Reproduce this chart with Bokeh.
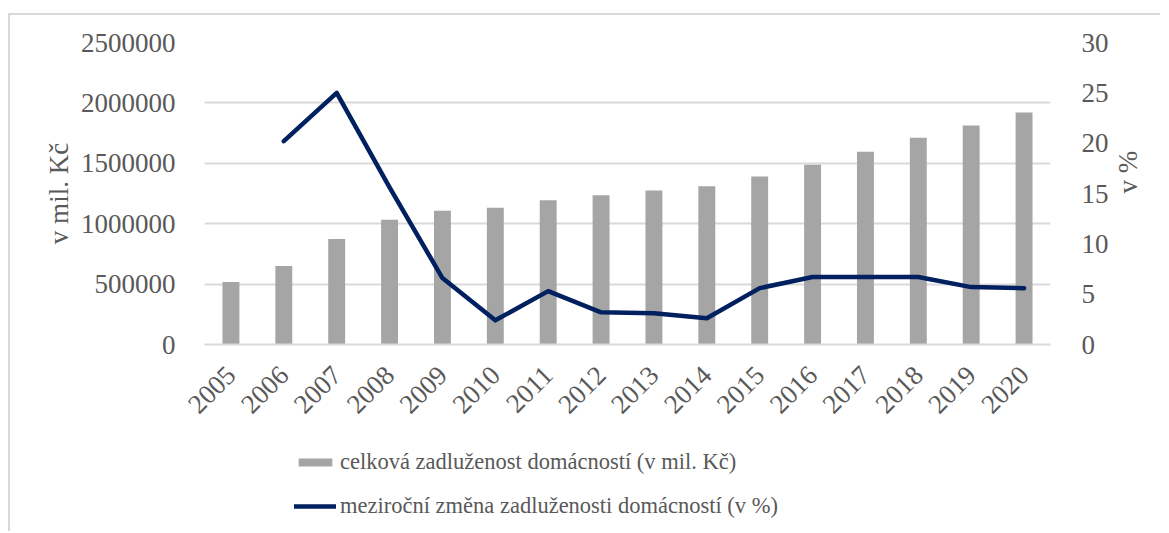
import math
from bokeh.plotting import figure
from bokeh.layouts import column
from bokeh.models import (ColumnDataSource, Range1d, LinearAxis, FactorRange,
                          Legend, LegendItem, SingleIntervalTicker)
from bokeh.embed import file_html
from bokeh.resources import INLINE

years = [str(y) for y in range(2005, 2021)]
debt = [517000, 650000, 873000, 1033000, 1107000, 1132000, 1195000, 1236000,
        1275000, 1311000, 1391000, 1488000, 1595000, 1711000, 1812000, 1920000]
change_years = years[1:]
change = [20.2, 25.0, 15.6, 6.6, 2.4, 5.3, 3.2, 3.1, 2.6, 5.6, 6.7, 6.7, 6.7, 5.7, 5.6]

bar_label = "celková zadluženost domácností (v mil. Kč)"
line_label = "meziroční změna zadluženosti domácností (v %)"

FONT = "Liberation Serif"
TXT = "#595959"
GRID = "#D9D9D9"
BAR = "#A5A5A5"
LINE = "#002060"

p = figure(x_range=FactorRange(*years), y_range=Range1d(0, 2500000),
           width=1150, height=421, output_backend="svg", toolbar_location=None,
           min_border_left=194, min_border_right=105, min_border_top=27,
           min_border_bottom=92)
p.outline_line_color = None
p.background_fill_color = "white"
p.border_fill_color = "white"
p.extra_y_ranges = {"pct": Range1d(0, 30)}

src_b = ColumnDataSource(dict(x=years, top=debt))
src_l = ColumnDataSource(dict(x=change_years, y=change))

p.vbar(x="x", top="top", width=0.32, source=src_b, fill_color=BAR, line_color=None)
p.line(x="x", y="y", source=src_l, y_range_name="pct", line_color=LINE,
       line_width=4.5, line_join="round", line_cap="round")

ya = p.yaxis[0]
ya.ticker = SingleIntervalTicker(interval=500000)
ya.formatter.use_scientific = False
ya.axis_label = "v mil. Kč"

ra = LinearAxis(y_range_name="pct", ticker=SingleIntervalTicker(interval=5))
ra.axis_label = "v %"
try:
    ra.axis_label_orientation = math.pi / 2
except Exception:
    pass
try:
    ra.axis_label_text_align = "center"
except Exception:
    pass
p.add_layout(ra, "right")

for ax in [ya, ra]:
    ax.axis_line_color = None
    ax.major_tick_line_color = None
    ax.minor_tick_line_color = None
    ax.major_label_text_font = FONT
    ax.major_label_text_font_size = "27px"
    ax.major_label_text_color = TXT
    ax.axis_label_text_font = FONT
    ax.axis_label_text_font_size = "27px"
    ax.axis_label_text_font_style = "normal"
    ax.axis_label_text_color = TXT
ya.major_label_standoff = 23
ya.axis_label_standoff = 4
ra.major_label_standoff = 25
ra.axis_label_standoff = 16

xa = p.xaxis[0]
xa.axis_line_color = GRID
xa.axis_line_width = 2
xa.major_tick_line_color = None
xa.minor_tick_line_color = None
xa.major_label_orientation = math.pi / 4
xa.major_label_text_font = FONT
xa.major_label_text_font_size = "27px"
xa.major_label_text_color = TXT
xa.major_label_standoff = 20

p.xgrid.grid_line_color = None
p.ygrid.grid_line_color = GRID
p.ygrid.grid_line_width = 2

# legend panel: a second figure below the chart; its renderers reuse the data
# but are hidden, so only their legend entries are drawn.
q = figure(width=1150, height=95, output_backend="svg", toolbar_location=None,
           x_axis_location=None, y_axis_location=None, min_border=0,
           x_range=p.x_range, y_range=Range1d(0, 2500000))
q.outline_line_color = None
q.grid.grid_line_color = None
q.background_fill_color = "white"
q.border_fill_color = "white"
lb = q.vbar(x="x", top="top", width=0.32, source=src_b, fill_color=BAR,
            line_color=None, visible=False)
ll = q.line(x="x", y="y", source=src_l, line_color=LINE, line_width=4.5,
            line_cap="round", visible=False)

legend = Legend(items=[LegendItem(label=bar_label, renderers=[lb]),
                       LegendItem(label=line_label, renderers=[ll])],
                location=(90, 10), orientation="vertical",
                padding=0, margin=0, spacing=14, border_line_color=None,
                background_fill_alpha=0, inactive_fill_alpha=0,
                glyph_width=42, glyph_height=10,
                label_height=30, label_standoff=4,
                label_text_font=FONT, label_text_font_size="22.5px",
                label_text_color=TXT)
q.add_layout(legend)

layout = column(p, q, spacing=0)
layout.styles = {"border-top": "2px solid #D9D9D9", "border-left": "2px solid #D9D9D9",
                 "margin-top": "13px", "margin-left": "8px"}

open("out.html", "w").write(file_html(layout, INLINE))
